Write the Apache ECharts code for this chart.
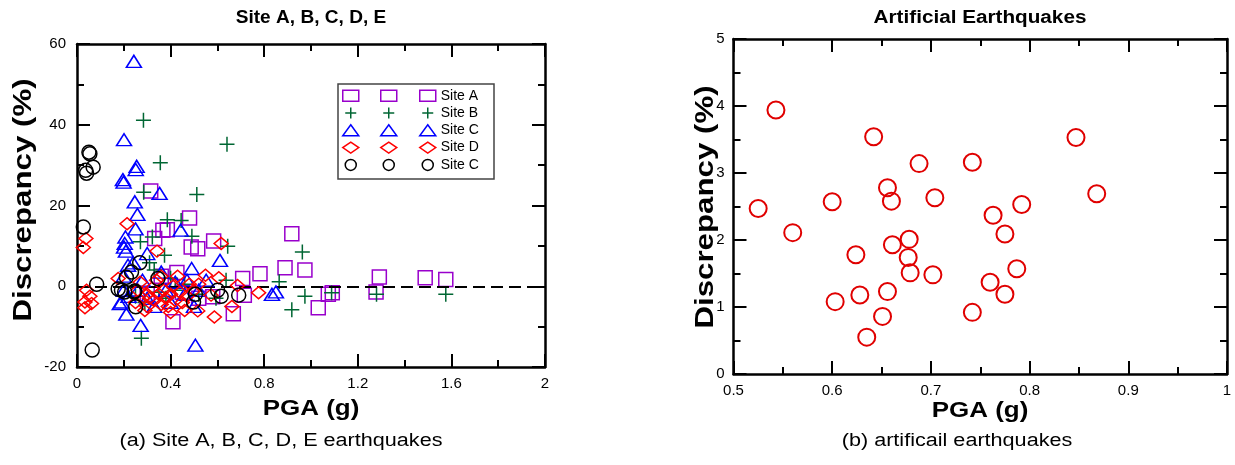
<!DOCTYPE html>
<html>
<head>
<meta charset="utf-8">
<script src="https://cdn.jsdelivr.net/npm/echarts@6/dist/echarts.min.js"></script>
<style>
html,body{margin:0;padding:0;background:#fff;}
#chart{width:1235px;height:465px;}
</style>
</head>
<body>
<div id="chart"></div>
<script>
// ---------- DATA ----------
const siteNames = ['Site A', 'Site B', 'Site C', 'Site D', 'Site E'];
const legendLabels = ['Site A', 'Site B', 'Site C', 'Site D', 'Site C'];

// [PGA (g), Discrepancy (%)]
const siteA = [
  [0.315,23.6],[0.481,16.9],[0.386,14],[0.367,13.9],[0.584,11.2],[0.918,13],[0.332,11.8],
  [0.488,9.7],[0.889,4.6],[0.974,4],[0.782,3.1],[0.708,1.9],[0.427,3.4],[0.41,-8.8],
  [0.668,-6.8],[1.031,-5.3],[1.074,-2],[1.091,-1.6],[0.58,-2.6],[0.715,-2.2],[1.292,2.3],
  [1.278,-1.4],[1.488,2.1],[1.576,1.7],[0.516,9.3],[0.45,-1.5],[0.52,-3],[0.36,2.5],[0.3,-2]
];
const siteB = [
  [0.284,41.1],[0.641,35.2],[0.356,30.6],[0.285,23.3],[0.512,22.7],[0.386,16.5],[0.445,16.3],
  [0.491,12.4],[0.322,12.2],[0.271,11],[0.644,9.9],[0.374,7.7],[0.31,5.8],[0.963,8.5],
  [0.864,1.1],[0.974,-2.5],[0.918,-5.8],[0.275,-12.9],[0.637,1.5],[0.594,-3],[1.088,-1.6],
  [1.28,-2],[1.576,-2],[0.33,4],[0.42,-1],[0.38,-3],[0.46,0.5],[0.35,-1.5],[0.4,2],
  [0.29,-4],[0.52,-2],[0.25,-2.5]
];
const siteC = [
  [0.243,55.7],[0.201,36.3],[0.255,29.7],[0.251,28.9],[0.196,26.4],[0.199,25.8],[0.353,23],
  [0.247,20.9],[0.258,17.8],[0.25,14.2],[0.207,12.2],[0.443,13.9],[0.201,9.7],[0.204,10.6],
  [0.209,8.7],[0.218,5.2],[0.24,5.8],[0.3,8.1],[0.49,4.4],[0.611,6.4],[0.183,-4.3],[0.19,-3.9],
  [0.211,-6.9],[0.272,-9.7],[0.506,-14.6],[0.833,-2],[0.85,-1.4],[0.552,1.5],[0.2,-1],
  [0.22,-2.5],[0.26,-1],[0.3,-3],[0.33,-5],[0.38,-1],[0.42,1],[0.46,-2],[0.4,-4],[0.5,-5],
  [0.36,3.5],[0.28,1.5],[0.2,2.5],[0.47,1.5],[0.52,-1]
];
const siteD = [
  [0.214,15.5],[0.038,11.8],[0.027,9.6],[0.616,10.6],[0.342,8.7],[0.176,1.9],[0.549,2.7],
  [0.606,2.1],[0.686,0.2],[0.776,-1.6],[0.662,-5],[0.587,-7.6],[0.516,-6.1],[0.041,-1],
  [0.055,-2.5],[0.034,-3.9],[0.062,-4.3],[0.034,-5.3],[0.573,-2.2],[0.26,-1],[0.28,-3],
  [0.3,-2],[0.3,-5],[0.32,-0.5],[0.33,-3.5],[0.35,-2],[0.36,-4.5],[0.37,-1],[0.38,-3],
  [0.39,-5],[0.4,-2],[0.41,0],[0.42,-3.5],[0.44,-1.5],[0.45,-4],[0.47,-2.5],[0.48,0.5],
  [0.5,-1],[0.27,1],[0.25,-4],[0.34,1.5],[0.43,2.5],[0.46,-6],[0.29,-6],[0.31,-3],
  [0.4,-6.5],[0.52,0.5],[0.36,2.5]
];
const siteE = [
  [0.051,33.2],[0.055,32.8],[0.069,29.5],[0.037,28.7],[0.041,28],[0.027,14.7],[0.084,0.5],
  [0.065,-15.8],[0.176,-0.7],[0.211,2.2],[0.233,3.5],[0.268,5.8],[0.204,-1.4],[0.247,-1.2],
  [0.251,-5.1],[0.346,1.9],[0.506,-2],[0.498,-3.9],[0.601,-1],[0.616,-2.5],[0.691,-2.2],
  [0.19,-1],[0.244,-1.4]
];
const artificial = [
  [0.525,2.47],[0.543,3.94],[0.560,2.11],[0.600,2.57],[0.603,1.08],[0.624,1.78],[0.628,1.18],
  [0.635,0.55],[0.642,3.54],[0.651,0.86],[0.656,2.78],[0.656,1.23],[0.660,2.58],[0.661,1.93],
  [0.678,2.01],[0.677,1.74],[0.679,1.51],[0.688,3.14],[0.702,1.48],[0.704,2.63],[0.742,3.16],
  [0.742,0.92],[0.760,1.37],[0.763,2.37],[0.775,1.19],[0.775,2.09],[0.787,1.57],[0.792,2.53],
  [0.847,3.53],[0.868,2.69]
];

// ---------- STYLE ----------
const FONT = '"Liberation Sans", Arial, Helvetica, sans-serif';
const colors = ['#9900cc', '#006633', '#0000ff', '#ff0000', '#000000'];
const plusPath = 'path://M0,5H10M5,0V10';
const symbols = ['rect', plusPath, 'triangle', 'diamond', 'circle'];
const sizes = [[14,14], [15,15], [15,12], [14,12], [14,14]];
const siteData = [siteA, siteB, siteC, siteD, siteE];

function axis(opts) {
  return Object.assign({
    type: 'value',
    axisLine: { onZero: false, lineStyle: { color: '#000', width: 2.5 } },
    axisTick: { inside: true, length: 13, lineStyle: { color: '#000', width: 2 } },
    minorTick: { show: true, splitNumber: 2, length: 7, lineStyle: { color: '#000', width: 2 } },
    axisLabel: { color: '#000', fontSize: 15, fontFamily: FONT, margin: 9 },
    splitLine: { show: false },
    minorSplitLine: { show: false }
  }, opts);
}
const noLabel = { show: false };
const yLabel = { color: '#000', fontSize: 15, fontFamily: FONT, margin: 11 };

const series = siteData.map((d, i) => ({
  name: siteNames[i],
  type: 'scatter',
  xAxisIndex: 0, yAxisIndex: 0,
  data: d,
  symbol: symbols[i],
  symbolSize: sizes[i],
  itemStyle: { color: 'rgba(0,0,0,0)', borderColor: colors[i], borderWidth: 1.5, opacity: 1 },
  emphasis: { disabled: true },
  z: 3 + i
}));
series[0].markLine = {
  silent: true,
  symbol: ['none', 'none'],
  label: { show: false },
  lineStyle: { color: '#000', width: 2, type: [12, 6] },
  data: [{ yAxis: 0 }]
};
series.push({
  name: 'Artificial',
  type: 'scatter',
  xAxisIndex: 2, yAxisIndex: 2,
  data: artificial,
  symbol: 'circle',
  symbolSize: 17,
  itemStyle: { color: 'rgba(0,0,0,0)', borderColor: '#e00000', borderWidth: 2, opacity: 1 },
  emphasis: { disabled: true }
});

function legendAt(left, showText) {
  return {
    orient: 'vertical',
    left: left, top: 88.7,
    padding: 0,
    itemWidth: 16, itemHeight: 11, itemGap: 3.3,
    selectedMode: false,
    data: siteNames,
    itemStyle: { borderWidth: 1.5 },
    formatter: n => legendLabels[siteNames.indexOf(n)],
    textStyle: { fontSize: 14, lineHeight: 14, fontFamily: FONT,
                 color: showText ? '#000' : 'rgba(0,0,0,0)' }
  };
}

function txt(text, x, y, size, weight, scaleX, rot) {
  return {
    type: 'text', x: x, y: y, scaleX: scaleX, rotation: rot || 0, z: 10,
    style: { text: text, fontSize: size, fontWeight: weight, fontFamily: FONT,
             fill: '#000', align: 'center', verticalAlign: 'middle' }
  };
}

const option = {
  animation: false,
  backgroundColor: '#fff',
  grid: [
    { left: 77, right: 690, top: 44, bottom: 98 },
    { left: 733.5, right: 8, top: 39, bottom: 91 }
  ],
  xAxis: [
    axis({ gridIndex: 0, min: 0, max: 2, interval: 0.4, position: 'bottom' }),
    axis({ gridIndex: 0, min: 0, max: 2, interval: 0.4, position: 'top', axisLabel: noLabel }),
    axis({ gridIndex: 1, min: 0.5, max: 1, interval: 0.1, position: 'bottom' }),
    axis({ gridIndex: 1, min: 0.5, max: 1, interval: 0.1, position: 'top', axisLabel: noLabel })
  ],
  yAxis: [
    axis({ gridIndex: 0, min: -20, max: 60, interval: 20, position: 'left', axisLabel: yLabel }),
    axis({ gridIndex: 0, min: -20, max: 60, interval: 20, position: 'right', axisLabel: noLabel }),
    axis({ gridIndex: 1, min: 0, max: 5, interval: 1, position: 'left' }),
    axis({ gridIndex: 1, min: 0, max: 5, interval: 1, position: 'right', axisLabel: noLabel })
  ],
  legend: [legendAt(342, false), legendAt(380, false), legendAt(419, true)],
  graphic: [
    { type: 'rect', shape: { x: 338, y: 84, width: 156, height: 95 }, z: 1,
      style: { fill: '#fff', stroke: '#444', lineWidth: 1.5 } },
    txt('Site A, B, C, D, E', 311, 18, 18, 'bold', 1.06),
    txt('Artificial Earthquakes', 980, 18, 18, 'bold', 1.15),
    txt('Discrepancy (%)', 24, 200, 25, 'bold', 1.25, Math.PI / 2),
    txt('Discrepancy (%)', 706, 207, 25, 'bold', 1.25, Math.PI / 2),
    txt('PGA (g)', 311, 409, 22, 'bold', 1.18),
    txt('PGA (g)', 980, 411, 22, 'bold', 1.18),
    txt('(a) Site A, B, C, D, E earthquakes', 281, 441, 18, 'normal', 1.2),
    txt('(b) artificail earthquakes', 957, 441, 18, 'normal', 1.2)
  ],
  series: series
};

const chart = echarts.init(document.getElementById('chart'), null, { renderer: 'canvas' });
chart.setOption(option);
</script>
</body>
</html>
